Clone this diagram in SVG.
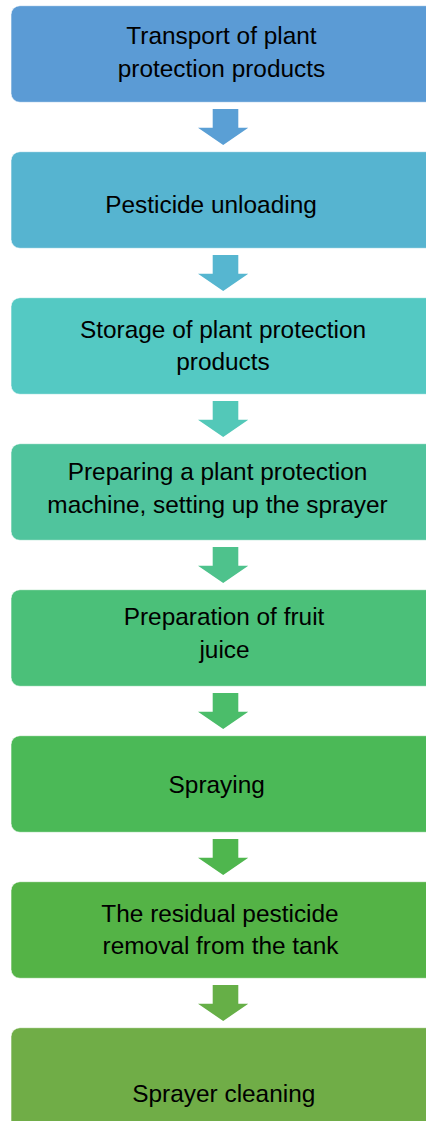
<svg xmlns="http://www.w3.org/2000/svg" width="426" height="1121" viewBox="0 0 426 1121">
<style>
.box{stroke:#ffffff;stroke-opacity:0.6;stroke-width:1}
.t{font-family:"Liberation Sans",Arial,sans-serif;font-size:24.4px;fill:#000000;text-anchor:middle}
</style>
<rect width="426" height="1121" fill="#ffffff"/>
<g id="connectors">
<path d="M212.7,109 H238.3 V127.7 H248.3 L223.2,145 L198,127.7 H212.7 Z" fill="#5A9FD5"/>
<path d="M212.7,255 H238.3 V273.7 H248.3 L223.2,291 L198,273.7 H212.7 Z" fill="#56B6D0"/>
<path d="M212.7,401 H238.3 V419.7 H248.3 L223.2,437 L198,419.7 H212.7 Z" fill="#53C8B8"/>
<path d="M212.7,547 H238.3 V565.7 H248.3 L223.2,583 L198,565.7 H212.7 Z" fill="#4EC28C"/>
<path d="M212.7,693 H238.3 V711.7 H248.3 L223.2,729 L198,711.7 H212.7 Z" fill="#4BBD6A"/>
<path d="M212.7,839 H238.3 V857.7 H248.3 L223.2,875 L198,857.7 H212.7 Z" fill="#4FB64E"/>
<path d="M212.7,985 H238.3 V1003.7 H248.3 L223.2,1021 L198,1003.7 H212.7 Z" fill="#66AF47"/>
</g>
<g id="n1">
<rect class="box" x="11" y="5.7" width="430" height="96.6" rx="9" fill="#5B9BD5"/>
<text class="t" x="221.5" y="43.7">Transport of plant</text>
<text class="t" x="221.5" y="77">protection products</text>
</g>
<g id="n2">
<rect class="box" x="11" y="151.7" width="430" height="96.6" rx="9" fill="#56B4D0"/>
<text class="t" x="211" y="212.7">Pesticide unloading</text>
</g>
<g id="n3">
<rect class="box" x="11" y="297.7" width="430" height="96.6" rx="9" fill="#54C9C3"/>
<text class="t" x="223" y="337.5">Storage of plant protection</text>
<text class="t" x="223" y="370">products</text>
</g>
<g id="n4">
<rect class="box" x="11" y="443.7" width="430" height="96.6" rx="9" fill="#50C49D"/>
<text class="t" x="217.5" y="480">Preparing a plant protection</text>
<text class="t" x="217.5" y="512.7">machine, setting up the sprayer</text>
</g>
<g id="n5">
<rect class="box" x="11" y="589.7" width="430" height="96.6" rx="9" fill="#4BC079"/>
<text class="t" x="224" y="625">Preparation of fruit</text>
<text class="t" x="224.5" y="658">juice</text>
</g>
<g id="n6">
<rect class="box" x="11" y="735.7" width="430" height="96.6" rx="9" fill="#4BB957"/>
<text class="t" x="216.7" y="793.3">Spraying</text>
</g>
<g id="n7">
<rect class="box" x="11" y="881.7" width="430" height="96.6" rx="9" fill="#54B346"/>
<text class="t" x="220" y="921.7">The residual pesticide</text>
<text class="t" x="220.5" y="954">removal from the tank</text>
</g>
<g id="n8">
<rect class="box" x="11" y="1027.7" width="430" height="110" rx="9" fill="#70AD47"/>
<text class="t" x="223.8" y="1101.7">Sprayer cleaning</text>
</g>
</svg>
